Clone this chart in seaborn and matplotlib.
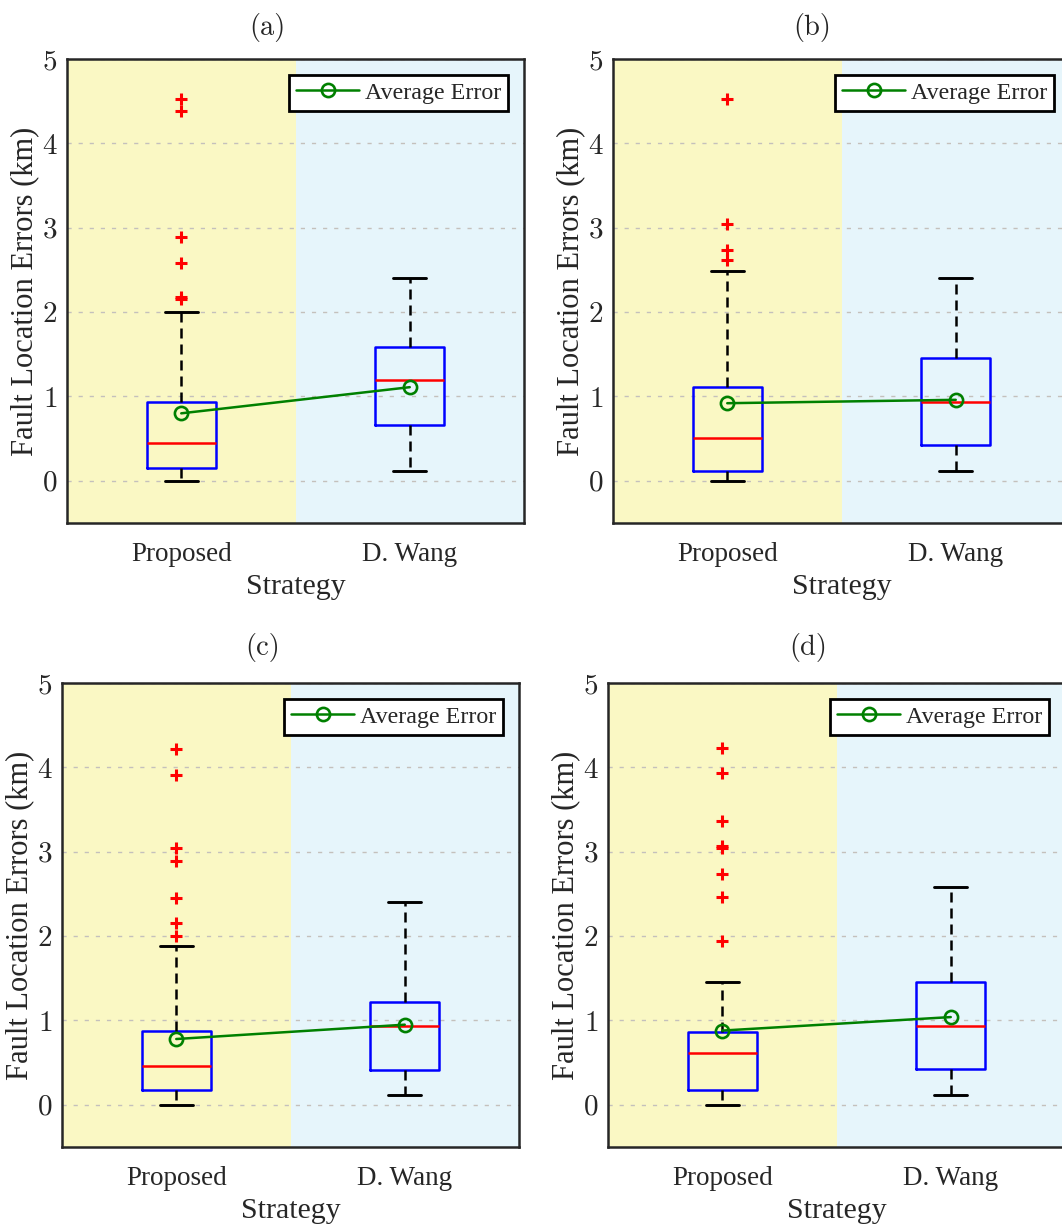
import matplotlib
matplotlib.use('Agg')
import matplotlib.pyplot as plt
import seaborn as sns

# strategies compared in every panel
labels = ['Proposed', 'D. Wang']
panel_titles = ['(a)', '(b)', '(c)', '(d)']

# box statistics per panel: [Proposed, D. Wang]  (km)
lower_whisker = [[0.00, 0.12], [0.00, 0.12], [0.00, 0.12], [0.00, 0.12]]
first_quartile = [[0.15, 0.66], [0.12, 0.42], [0.18, 0.41], [0.18, 0.42]]
median = [[0.45, 1.20], [0.51, 0.94], [0.46, 0.93], [0.61, 0.94]]
third_quartile = [[0.93, 1.59], [1.11, 1.46], [0.87, 1.22], [0.86, 1.46]]
upper_whisker = [[2.00, 2.40], [2.49, 2.40], [1.88, 2.40], [1.46, 2.58]]
average_error = [[0.80, 1.11], [0.92, 0.96], [0.78, 0.95], [0.88, 1.04]]

# outliers of the Proposed strategy (D. Wang has none)
outliers_proposed = [
    [2.16, 2.18, 2.58, 2.89, 4.38, 4.53],
    [2.62, 2.74, 3.05, 4.53],
    [2.00, 2.15, 2.45, 2.89, 3.04, 3.91, 4.22],
    [1.94, 2.46, 2.74, 3.04, 3.07, 3.37, 3.93, 4.23],
]
outliers_wang = [[], [], [], []]

sns.set_style('white')
plt.rcParams['font.family'] = ['Liberation Serif', 'DejaVu Serif']
plt.rcParams['axes.formatter.use_mathtext'] = True

W, H = 1062, 1225
fig = plt.figure(figsize=(W / 100, H / 100), dpi=100)

# axes rectangles in pixels: left, top, width, height
frames = [(67, 59, 457, 464), (613, 59, 457, 464), (62, 683, 457, 464), (608, 683, 457, 464)]
title_xy = [(267, 27), (812, 27), (263, 648), (808, 648)]

yellow = '#FAF8C4'
light_blue = '#E6F5FB'

for i in range(4):
    l, t, w, h = frames[i]
    ax = fig.add_axes([l / W, 1 - (t + h) / H, w / W, h / H])

    ax.axvspan(-0.5, 0.5, color=yellow, lw=0, zorder=0)
    ax.axvspan(0.5, 1.5, color=light_blue, lw=0, zorder=0)

    fliers = [outliers_proposed[i], outliers_wang[i]]
    stats = []
    for j in range(2):
        stats.append(dict(whislo=lower_whisker[i][j], q1=first_quartile[i][j],
                          med=median[i][j], q3=third_quartile[i][j],
                          whishi=upper_whisker[i][j], fliers=fliers[j]))
    ax.bxp(stats, positions=[0, 1], widths=0.3, capwidths=0.145,
           boxprops=dict(color='#0000FF', lw=1.8),
           medianprops=dict(color='#FF0000', lw=1.8),
           whiskerprops=dict(color='black', lw=1.8, linestyle=(0, (4, 2.4))),
           capprops=dict(color='black', lw=2.1),
           flierprops=dict(marker='+', markeredgecolor='#FF0000', markersize=9,
                           markeredgewidth=2.2, linestyle='none'))

    sns.lineplot(x=[0, 1], y=average_error[i], ax=ax, color='#008000', lw=1.8,
                 marker='o', markersize=9.5, markerfacecolor='none',
                 markeredgecolor='#008000', markeredgewidth=1.9,
                 label='Average Error', zorder=5)

    ax.set_xlim(-0.5, 1.5)
    ax.set_ylim(-0.5, 5)
    ax.set_yticks(range(6))
    ax.set_xticks([0, 1], labels)
    ax.yaxis.grid(True, linestyle=(0, (3, 5)), color='#C4C0BC', lw=1)
    ax.xaxis.grid(False)
    ax.set_axisbelow(True)

    ax.tick_params(axis='both', length=0)
    ax.tick_params(axis='y', labelsize=21, pad=7)
    ax.tick_params(axis='x', labelsize=19.5, pad=14)
    for lab in ax.get_yticklabels():
        lab.set_fontfamily('cmr10')

    ax.set_xlabel('Strategy', fontsize=21.5, labelpad=5)
    ax.set_ylabel('Fault Location Errors (km)', fontsize=22)
    ax.yaxis.set_label_coords(-0.06, 0.5)

    for s in ax.spines.values():
        s.set_color('#262626')
        s.set_linewidth(1.8)

    leg = ax.legend(loc='upper right', fontsize=17.3, frameon=True, fancybox=False,
                    framealpha=1, edgecolor='black', borderaxespad=0.65,
                    handlelength=2.6, handletextpad=0.25, borderpad=0.3)
    leg.get_frame().set_linewidth(2)

    tx, ty = title_xy[i]
    fig.text(tx / W, 1 - ty / H, panel_titles[i], ha='center', va='center',
             fontfamily='cmr10', fontsize=20.5)

fig.savefig('out.png', dpi=100)
